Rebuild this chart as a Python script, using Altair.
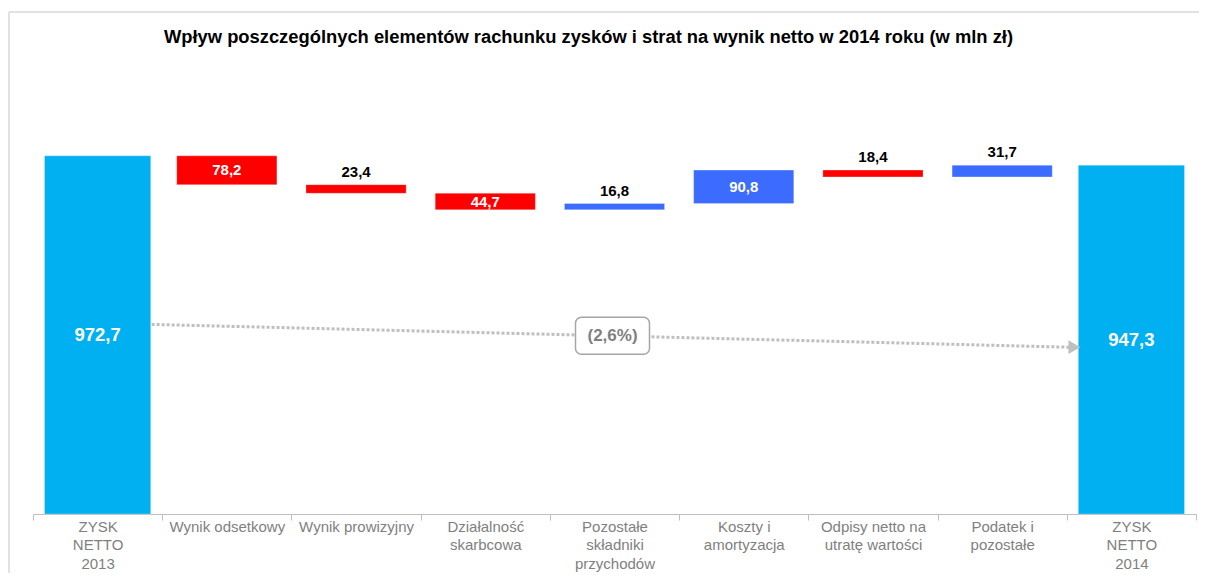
import altair as alt
import pandas as pd

# ---- data ----
categories = [
    "ZYSK|NETTO|2013",
    "Wynik odsetkowy",
    "Wynik prowizyjny",
    "Działalność|skarbcowa",
    "Pozostałe|składniki|przychodów",
    "Koszty i|amortyzacja",
    "Odpisy netto na|utratę wartości",
    "Podatek i|pozostałe",
    "ZYSK|NETTO|2014",
]
kinds = ["total", "dec", "dec", "dec", "inc", "inc", "dec", "inc", "total"]
values = [972.7, 78.2, 23.4, 44.7, 16.8, 90.8, 18.4, 31.7, 947.3]
change_text = "(2,6%)"
arrow_from = 515.0   # level (mln zł) where the trend arrow starts
arrow_to = 453.0     # level where it ends
title_text = "Wpływ poszczególnych elementów rachunku zysków i strat na wynik netto w 2014 roku (w mln zł)"

# ---- waterfall table ----
rows = []
cum = 0.0
for c, k, v in zip(categories, kinds, values):
    if k == "total":
        lo, hi = 0.0, v
        cum = v
    elif k == "dec":
        lo, hi = cum - v, cum
        cum = lo
    else:
        lo, hi = cum, cum + v
        cum = hi
    rows.append(dict(cat=c, kind=k, lo=lo, hi=hi, mid=(lo + hi) / 2,
                     label=f"{v:.1f}".replace(".", ","),
                     inside=(k != "total" and v > 40), total=(k == "total")))
df = pd.DataFrame(rows)

FONT = "Liberation Sans"
xscale = alt.Scale(domain=categories, paddingInner=0, paddingOuter=0)
yscale = alt.Scale(domain=[0, 1100], nice=False, zero=True)
colscale = alt.Scale(domain=["total", "dec", "inc"],
                     range=["#00B0F0", "#FF0000", "#3B6CFF"])

base = alt.Chart(df)

xaxis = alt.Axis(labelExpr="split(datum.label, '|')", labelAngle=0,
                 labelFont=FONT, labelFontSize=15, labelColor="#7F7F7F",
                 labelLineHeight=18.5, labelLimit=0, labelPadding=-1,
                 labelBaseline="top",
                 domainColor="#BFBFBF", tickColor="#BFBFBF", tickSize=6,
                 tickBand="extent", grid=False)

step_bars = base.transform_filter("!datum.total").mark_bar(
    width={"band": 0.775}, stroke="#FFFFFF", strokeOpacity=0.35, strokeWidth=0.8
).encode(
    x=alt.X("cat:N", scale=xscale, sort=categories, title=None, axis=xaxis),
    y=alt.Y("lo:Q", scale=yscale, axis=None),
    y2="hi:Q",
    color=alt.Color("kind:N", legend=None, scale=colscale),
)

total_bars = base.transform_filter("datum.total").mark_bar(
    width={"band": 0.822}, stroke="#FFFFFF", strokeOpacity=0.35, strokeWidth=0.8
).encode(
    x=alt.X("cat:N", sort=categories),
    y=alt.Y("lo:Q"),
    y2="hi:Q",
    color=alt.Color("kind:N", legend=None, scale=colscale),
)

inside_small = base.transform_filter("datum.inside").mark_text(
    font=FONT, fontWeight="bold", fontSize=15, color="white", baseline="middle"
).encode(x=alt.X("cat:N", sort=categories), y="mid:Q", text="label:N")

inside_total = base.transform_filter("datum.total").mark_text(
    font=FONT, fontWeight="bold", fontSize=18.5, color="white", baseline="middle"
).encode(x=alt.X("cat:N", sort=categories), y="mid:Q", text="label:N")

above = base.transform_filter("!datum.inside && !datum.total").mark_text(
    font=FONT, fontWeight="bold", fontSize=15, color="black", baseline="bottom", dy=-5
).encode(x=alt.X("cat:N", sort=categories), y="hi:Q", text="label:N")

# ---- trend arrow with the percentage box ----
arrow_df = pd.DataFrame({"x": [categories[0]], "x2": [categories[-1]],
                         "y": [arrow_from], "y2": [arrow_to]})
arrow_line = alt.Chart(arrow_df).mark_rule(
    color="#BFBFBF", strokeWidth=3, strokeDash=[3, 2], xOffset=54, x2Offset=-62
).encode(x=alt.X("x:N", sort=categories), x2="x2:N", y="y:Q", y2="y2:Q")

head_df = pd.DataFrame({"x": [categories[-1]], "y": [arrow_to]})
arrow_head = alt.Chart(head_df).mark_point(
    shape="triangle-right", filled=True, color="#BFBFBF", opacity=1, size=190, xOffset=-57
).encode(x=alt.X("x:N", sort=categories), y="y:Q")

box_df = pd.DataFrame({"x": [categories[4]], "y": [(arrow_from + arrow_to) / 2],
                       "t": [change_text]})
rounded = ("M -0.84,-0.5 H 0.84 A 0.16,0.16 0 0 1 1,-0.34 V 0.34 "
           "A 0.16,0.16 0 0 1 0.84,0.5 H -0.84 A 0.16,0.16 0 0 1 -1,0.34 "
           "V -0.34 A 0.16,0.16 0 0 1 -0.84,-0.5 Z")
box = alt.Chart(box_df).mark_point(
    shape=rounded, filled=True, fill="white", stroke="#A6A6A6", strokeWidth=1.5,
    opacity=1, size=74 * 74, xOffset=-2
).encode(x=alt.X("x:N", sort=categories), y="y:Q")
box_text = alt.Chart(box_df).mark_text(
    font=FONT, fontWeight="bold", fontSize=17, color="#7F7F7F", baseline="middle", dx=-2
).encode(x=alt.X("x:N", sort=categories), y="y:Q", text="t:N")

# ---- decorative frame (top and left edges) ----
frame_top = alt.Chart(pd.DataFrame({"a": [0]})).mark_rule(color="#D9D9D9", strokeWidth=1.5).encode(
    x=alt.value(-24), x2=alt.value(1174), y=alt.value(-97))
frame_left = alt.Chart(pd.DataFrame({"a": [0]})).mark_rule(color="#D9D9D9", strokeWidth=1.5).encode(
    x=alt.value(-24), y=alt.value(-97), y2=alt.value(480))

chart = alt.layer(
    frame_top, frame_left, step_bars, total_bars, arrow_line, arrow_head, box, box_text,
    inside_small, inside_total, above
).properties(
    width=1163, height=405,
    background="white",
    title=alt.TitleParams(title_text, font=FONT, fontSize=18.35, fontWeight="bold",
                          color="black", anchor="middle", frame="group",
                          dx=-26, offset=-36),
    autosize=alt.AutoSizeParams(type="none"),
    padding={"left": 25, "top": 101, "right": 3, "bottom": 59},
).configure_view(strokeWidth=0, stroke="transparent")

chart.save("out.html", embed_options={"renderer": "svg", "actions": False})
